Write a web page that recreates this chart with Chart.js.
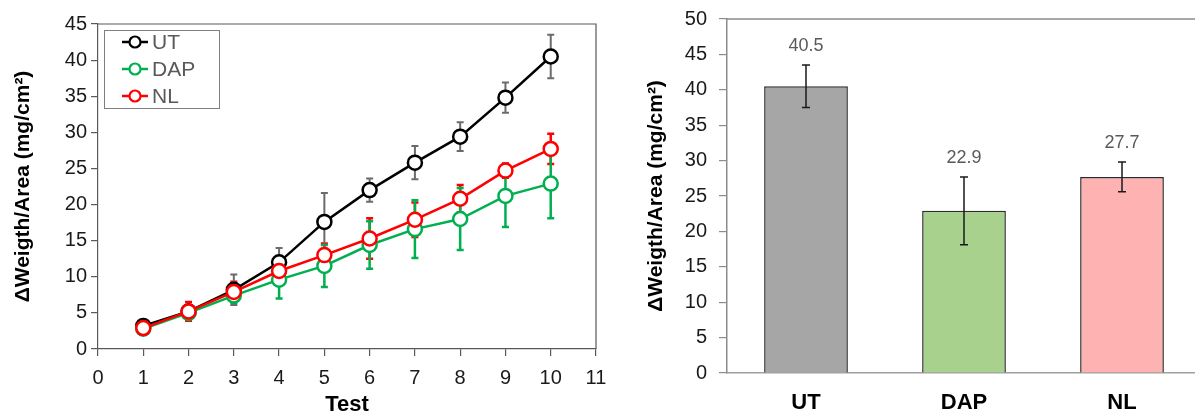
<!DOCTYPE html>
<html>
<head>
<meta charset="utf-8">
<script src="https://cdn.jsdelivr.net/npm/chart.js@4.4.1/dist/chart.umd.min.js"></script>
<style>
  html, body { margin:0; padding:0; background:#fff; width:1195px; height:416px; overflow:hidden; }
  #left { position:absolute; left:0; top:0; }
  #right { position:absolute; left:610px; top:0; }
</style>
</head>
<body>
<canvas id="left" width="610" height="416"></canvas>
<canvas id="right" width="600" height="416"></canvas>
<script>
// ---------- data ----------
const tests = [1, 2, 3, 4, 5, 6, 7, 8, 9, 10];
const utMean  = [3.2, 5.2, 8.2, 12.0, 17.6, 22.0, 25.8, 29.4, 34.8, 40.5];
const utErr   = [0.4, 0.8, 2.1, 2.0, 4.0, 1.6, 2.3, 2.0, 2.1, 3.0];
const dapMean = [2.8, 5.0, 7.4, 9.6, 11.5, 14.4, 16.6, 18.0, 21.2, 22.9];
const dapErr  = [0.4, 0.7, 1.0, 2.6, 2.9, 3.3, 4.0, 4.3, 4.3, 4.8];
const nlMean  = [2.9, 5.2, 7.9, 10.8, 13.0, 15.3, 17.9, 20.8, 24.7, 27.7];
const nlErr   = [0.5, 1.3, 1.4, 0.8, 1.6, 2.8, 2.4, 1.9, 1.0, 2.1];

const categories = ['UT', 'DAP', 'NL'];
const barMeans = [40.5, 22.9, 27.7];
const barErr   = [3.0, 4.8, 2.1];
const barLabels = ['40.5', '22.9', '27.7'];

const yTitle = 'ΔWeigth/Area (mg/cm²)';
const xTitle = 'Test';

const FONT = "'Liberation Sans', Arial, sans-serif";

// ---------- plugins ----------
const whiteBg = {
  id: 'whiteBg',
  beforeDraw(chart) {
    const c = chart.ctx; c.save(); c.fillStyle = '#fff';
    c.fillRect(0, 0, chart.width, chart.height); c.restore();
  }
};

const frame = {
  id: 'frame',
  afterDraw(chart, args, opts) {
    const a = chart.chartArea, c = chart.ctx;
    c.save(); c.strokeStyle = opts.color; c.lineWidth = opts.width;
    c.beginPath();
    c.moveTo(a.left, a.top); c.lineTo(a.right, a.top); c.lineTo(a.right, a.bottom);
    c.stroke(); c.restore();
  }
};

const lineErrors = {
  id: 'lineErrors',
  beforeDatasetsDraw(chart) {
    const c = chart.ctx, xs = chart.scales.x, ys = chart.scales.y;
    const ds = chart.data.datasets;
    for (let k = ds.length - 1; k >= 0; k--) {
      const d = ds[k];
      c.save();
      c.strokeStyle = d.errColor; c.lineWidth = d.errWidth;
      d.data.forEach((p, i) => {
        const e = d.errors[i];
        const x = xs.getPixelForValue(p.x);
        const y1 = ys.getPixelForValue(p.y + e), y2 = ys.getPixelForValue(p.y - e);
        c.beginPath();
        c.moveTo(x, y1); c.lineTo(x, y2);
        c.moveTo(x - 3.5, y1); c.lineTo(x + 3.5, y1);
        c.moveTo(x - 3.5, y2); c.lineTo(x + 3.5, y2);
        c.stroke();
      });
      c.restore();
    }
  }
};

const lineLegend = {
  id: 'lineLegend',
  afterDraw(chart) {
    const c = chart.ctx, a = chart.chartArea;
    const bx = a.left + 6, by = a.top + 6, bw = 115, bh = 78;
    c.save();
    c.strokeStyle = '#7f7f7f'; c.lineWidth = 1;
    c.strokeRect(bx + 0.5, by + 0.5, bw, bh);
    chart.data.datasets.forEach((d, i) => {
      const y = by + 12 + i * 27;
      c.strokeStyle = d.borderColor; c.lineWidth = 2.5;
      c.beginPath(); c.moveTo(bx + 18, y); c.lineTo(bx + 44, y); c.stroke();
      c.beginPath(); c.arc(bx + 31, y, 5.5, 0, Math.PI * 2);
      c.fillStyle = '#fff'; c.fill(); c.lineWidth = 2.2; c.stroke();
      c.fillStyle = '#595959'; c.font = '21px ' + FONT;
      c.textBaseline = 'middle'; c.textAlign = 'left';
      c.fillText(d.label, bx + 48, y + 1);
    });
    c.restore();
  }
};

const barErrors = {
  id: 'barErrors',
  afterDatasetsDraw(chart) {
    const c = chart.ctx, ys = chart.scales.y;
    const meta = chart.getDatasetMeta(0);
    const d = chart.data.datasets[0];
    c.save();
    meta.data.forEach((bar, i) => {
      const v = d.data[i], e = d.errors[i];
      const x = bar.x;
      const y1 = ys.getPixelForValue(v + e), y2 = ys.getPixelForValue(v - e);
      c.strokeStyle = '#1a1a1a'; c.lineWidth = 1.5;
      c.beginPath();
      c.moveTo(x, y1); c.lineTo(x, y2);
      c.moveTo(x - 4, y1); c.lineTo(x + 4, y1);
      c.moveTo(x - 4, y2); c.lineTo(x + 4, y2);
      c.stroke();
      c.fillStyle = '#595959'; c.font = '18px ' + FONT;
      c.textAlign = 'center'; c.textBaseline = 'bottom';
      c.fillText(d.valueLabels[i], x, y1 - 10);
    });
    c.restore();
  }
};

function zeroPad(s) { s.paddingTop = 0; s.paddingBottom = 0; s.paddingLeft = 0; s.paddingRight = 0; }

// ---------- left chart ----------
const mk = (arr) => tests.map((t, i) => ({ x: t, y: arr[i] }));

new Chart(document.getElementById('left'), {
  type: 'line',
  data: {
    datasets: [
      { label: 'UT',  data: mk(utMean),  errors: utErr,  borderColor: '#000000', errColor: '#6b6b6b', errWidth: 2, order: 3 },
      { label: 'DAP', data: mk(dapMean), errors: dapErr, borderColor: '#00b050', errColor: '#00b050', errWidth: 2.5, order: 2 },
      { label: 'NL',  data: mk(nlMean),  errors: nlErr,  borderColor: '#ff0000', errColor: '#ff0000', errWidth: 2.5, order: 1 }
    ]
  },
  options: {
    responsive: false, animation: false,
    layout: { padding: { top: 24, right: 14, left: 0, bottom: 0 } },
    elements: {
      point: { radius: 7, borderWidth: 2.5, backgroundColor: '#fff', hoverRadius: 7 },
      line: { borderWidth: 2.5, tension: 0, fill: false }
    },
    datasets: { line: { pointBackgroundColor: '#fff' } },
    plugins: { legend: { display: false }, tooltip: { enabled: false }, frame: { color: '#595959', width: 1.2 } },
    scales: {
      x: {
        type: 'linear', min: 0, max: 11,
        ticks: { stepSize: 1, color: '#1a1a1a', font: { family: FONT, size: 20 }, padding: 10, maxRotation: 0 },
        grid: { drawOnChartArea: false, tickLength: 7, color: '#595959', lineWidth: 1.2 },
        border: { color: '#595959', width: 1.2 },
        title: { display: true, text: xTitle, color: '#000', font: { family: FONT, size: 22, weight: 'bold', lineHeight: 1 }, padding: 0 },
        afterFit(s) { s.height = 67; zeroPad(s); }
      },
      y: {
        min: 0, max: 45,
        ticks: { stepSize: 5, color: '#1a1a1a', font: { family: FONT, size: 20 }, padding: 4 },
        grid: { drawOnChartArea: false, tickLength: 7, color: '#595959', lineWidth: 1.2 },
        border: { color: '#595959', width: 1.2 },
        title: { display: true, text: yTitle, color: '#000', font: { family: FONT, size: 21, weight: 'bold', lineHeight: 1.2 }, padding: { top: 11, bottom: 0 } },
        afterFit(s) { s.width = 98; zeroPad(s); }
      }
    }
  },
  plugins: [whiteBg, lineErrors, frame, lineLegend]
});

// ---------- right chart ----------
new Chart(document.getElementById('right'), {
  type: 'bar',
  data: {
    labels: categories,
    datasets: [{
      data: barMeans, errors: barErr, valueLabels: barLabels,
      backgroundColor: ['#a6a6a6', '#a9d18e', '#ffb2b2'],
      borderColor: '#2b2b2b', borderWidth: 1.5,
      barPercentage: 0.53, categoryPercentage: 1
    }]
  },
  options: {
    responsive: false, animation: false,
    layout: { padding: { top: 19, right: 9, left: 0, bottom: 0 } },
    plugins: { legend: { display: false }, tooltip: { enabled: false }, frame: { color: '#8c8c8c', width: 1.5 } },
    scales: {
      x: {
        ticks: { color: '#000', font: { family: FONT, size: 22, weight: 'bold' }, padding: 17 },
        grid: { display: false, drawTicks: false },
        border: { color: '#a0a0a0', width: 1.5 },
        afterFit(s) { s.height = 43; zeroPad(s); }
      },
      y: {
        min: 0, max: 50,
        ticks: { stepSize: 5, color: '#1a1a1a', font: { family: FONT, size: 20 }, padding: 12 },
        grid: { drawOnChartArea: false, tickLength: 8, color: '#8c8c8c', lineWidth: 1.2 },
        border: { color: '#8c8c8c', width: 1.5 },
        title: { display: true, text: yTitle, color: '#000', font: { family: FONT, size: 21, weight: 'bold', lineHeight: 1.2 }, padding: { top: 34, bottom: 0 } },
        afterFit(s) { s.width = 117; zeroPad(s); }
      }
    }
  },
  plugins: [whiteBg, frame, barErrors]
});
</script>
</body>
</html>
